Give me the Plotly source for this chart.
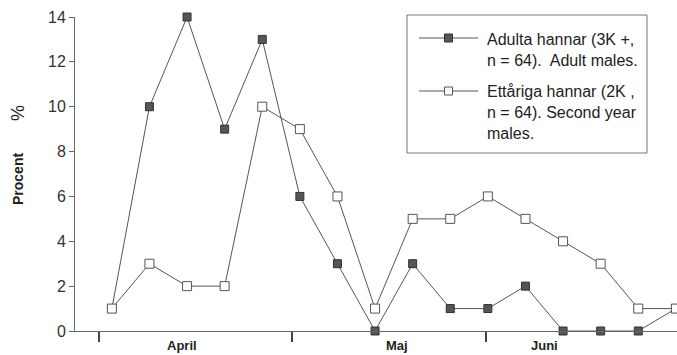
import plotly.graph_objects as go

periods = list(range(16))
adult = [1, 10, 14, 9, 13, 6, 3, 0, 3, 1, 1, 2, 0, 0, 0, 1]
second_year = [1, 3, 2, 2, 10, 9, 6, 1, 5, 5, 6, 5, 4, 3, 1, 1]
month_labels = ["April", "Maj", "Juni"]
month_label_pos = [1.86, 7.58, 11.5]
month_bounds = [-0.35, 4.8, 9.95]
y_ticks = [0, 2, 4, 6, 8, 10, 12, 14]
legend_texts = ["Adulta hannar (3K +,<br>n = 64).  Adult males.",
                "Ettåriga hannar (2K ,<br>n = 64). Second year<br>males."]

font = "Liberation Sans, Arial, sans-serif"
W, H = 677, 355
ML, MR, MT, MB = 75, 0, 17, 24
PW, PH = W - ML - MR, H - MT - MB


def px(X):
    return (X - ML) / PW


def py(Y):
    return (H - MB - Y) / PH


fig = go.Figure()
fig.add_trace(go.Scatter(
    x=periods, y=adult, mode="lines+markers", name=legend_texts[0],
    line=dict(color="#555555", width=1),
    marker=dict(symbol="square", size=8, color="#555555", line=dict(color="#333333", width=1)),
    cliponaxis=False, showlegend=False,
))
fig.add_trace(go.Scatter(
    x=periods, y=second_year, mode="lines+markers", name=legend_texts[1],
    line=dict(color="#555555", width=1),
    marker=dict(symbol="square", size=9, color="white", line=dict(color="#555555", width=1)),
    cliponaxis=False, showlegend=False,
))

annotations = []
for lab, pos in zip(month_labels, month_label_pos):
    annotations.append(dict(x=pos, y=0, xref="x", yref="paper", yanchor="top", yshift=-5,
                            text="<b>" + lab + "</b>", showarrow=False,
                            font=dict(family=font, size=13, color="#222")))
annotations.append(dict(x=px(18), y=py(179), xref="paper", yref="paper", xanchor="center",
                        yanchor="middle", text="<b>Procent</b>", textangle=-90, showarrow=False,
                        font=dict(family=font, size=14, color="#222")))
annotations.append(dict(x=px(18), y=py(113), xref="paper", yref="paper", xanchor="center",
                        yanchor="middle", text="%", textangle=-90, showarrow=False,
                        font=dict(family=font, size=18, color="#222")))

# manual legend
shapes = [dict(type="rect", xref="paper", yref="paper", x0=px(407), x1=px(647),
               y0=py(153), y1=py(15), line=dict(color="#777", width=1), fillcolor="white",
               layer="above")]
leg_rows = [(38, "#555555", "#333333"), (91, "white", "#555555")]
text_tops = [29, 81]
for (ly, fill, edge), txt, ttop in zip(leg_rows, legend_texts, text_tops):
    shapes.append(dict(type="line", xref="paper", yref="paper", x0=px(419), x1=px(478),
                       y0=py(ly), y1=py(ly), line=dict(color="#555", width=1), layer="above"))
    shapes.append(dict(type="rect", xref="paper", yref="paper", x0=px(444.5), x1=px(452.5),
                       y0=py(ly + 4), y1=py(ly - 4), line=dict(color=edge, width=1),
                       fillcolor=fill, layer="above"))
    annotations.append(dict(x=px(485), y=py(ttop), xref="paper", yref="paper",
                            xanchor="left", yanchor="top", align="left", text=txt,
                            showarrow=False, font=dict(family=font, size=16, color="#222")))

fig.update_layout(
    width=W, height=H,
    margin=dict(l=ML, r=MR, t=MT, b=MB),
    paper_bgcolor="white", plot_bgcolor="white",
    font=dict(family=font, size=14, color="#333"),
    showlegend=False,
    annotations=annotations, shapes=shapes,
)
fig.update_xaxes(range=[-0.98, 15.03], showgrid=False, zeroline=False,
                 showline=True, linecolor="#666", linewidth=1,
                 tickvals=month_bounds, ticktext=["", "", ""],
                 ticks="outside", ticklen=10, tickcolor="#444", tickwidth=1.5)
fig.update_yaxes(range=[0, 14], showgrid=False, zeroline=False,
                 showline=True, linecolor="#666", linewidth=1,
                 tickvals=y_ticks, ticks="outside", ticklen=5, tickcolor="#666",
                 tickfont=dict(family=font, size=16, color="#333"))
fig.write_html("out.html", config={"displayModeBar": False})

with open("out.html", "r", encoding="utf-8") as f:
    html = f.read()
html = html.replace("<head>", "<head><style>html,body{margin:0;padding:0;}</style>", 1)
with open("out.html", "w", encoding="utf-8") as f:
    f.write(html)
